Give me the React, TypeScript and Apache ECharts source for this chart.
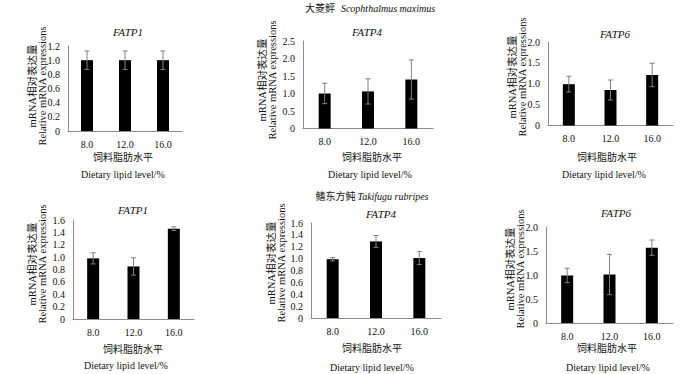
import React, { useEffect, useRef } from "react";
import * as echarts from "echarts";

const categories = ["8.0", "12.0", "16.0"];

// 大菱鲆 Scophthalmus maximus
const turbotFatp1Mean = [1.0, 1.0, 1.0];
const turbotFatp1Err = [0.13, 0.13, 0.13];
const turbotFatp4Mean = [1.0, 1.06, 1.4];
const turbotFatp4Err = [0.29, 0.36, 0.56];
const turbotFatp6Mean = [0.99, 0.85, 1.21];
const turbotFatp6Err = [0.19, 0.24, 0.28];

// 鳍东方鲀 Takifugu rubripes
const fuguFatp1Mean = [0.98, 0.85, 1.46];
const fuguFatp1Err = [0.09, 0.14, 0.03];
const fuguFatp4Mean = [0.99, 1.29, 1.01];
const fuguFatp4Err = [0.03, 0.1, 0.11];
const fuguFatp6Mean = [0.99, 1.01, 1.57];
const fuguFatp6Err = [0.15, 0.42, 0.16];

const geneNames = ["FATP1", "FATP4", "FATP6", "FATP1", "FATP4", "FATP6"];
const yMax = [1.2, 2.5, 2.0, 1.6, 1.6, 2.0];
const yInterval = [0.2, 0.5, 0.5, 0.2, 0.2, 0.5];

const speciesCn = ["大菱鲆", "鳍东方鲀"];
const speciesLatin = ["Scophthalmus maximus", "Takifugu rubripes"];
const yNameCn = "mRNA相对表达量";
const yNameEn = "Relative mRNA expressions";
const xNameCn = "饲料脂肪水平";
const xNameEn = "Dietary lipid level/%";

const means = [turbotFatp1Mean, turbotFatp4Mean, turbotFatp6Mean, fuguFatp1Mean, fuguFatp4Mean, fuguFatp6Mean];
const errs = [turbotFatp1Err, turbotFatp4Err, turbotFatp6Err, fuguFatp1Err, fuguFatp4Err, fuguFatp6Err];

// layout (pixels)
const layout = [
  { grid: { left: 68, top: 46, width: 114, height: 85 }, title: [128, 32], yName: [37, 86], xCn: [123, 157], xEn: [123, 174] },
  { grid: { left: 303, top: 41, width: 130, height: 87.5 }, title: [367, 32], yName: [267, 80], xCn: [372, 157], xEn: [370, 174] },
  { grid: { left: 548, top: 42, width: 125, height: 83.5 }, title: [615, 34], yName: [517, 77], xCn: [607, 157], xEn: [604, 174] },
  { grid: { left: 73, top: 220, width: 121, height: 99 }, title: [133, 210], yName: [37, 264], xCn: [133, 349], xEn: [126, 365] },
  { grid: { left: 311, top: 223, width: 130, height: 95 }, title: [381, 214], yName: [276, 263], xCn: [372, 348], xEn: [372, 367] },
  { grid: { left: 546, top: 227, width: 127, height: 96 }, title: [616, 213], yName: [515, 269], xCn: [607, 348], xEn: [608, 367] },
];
const speciesPos = [[370, 8], [372, 196]];

const FONT = '"Liberation Serif", "Noto Sans CJK SC", serif';
const TEXT = "#111111";
const AXIS = "#8c8c8c";

export default function App() {
  const ref = useRef<HTMLDivElement>(null);
  useEffect(() => {
    if (!ref.current) return;
    const chart = echarts.init(ref.current, undefined, { renderer: "svg" });

    const grids: any[] = [];
    const xAxes: any[] = [];
    const yAxes: any[] = [];
    const series: any[] = [];
    const graphics: any[] = [];

    layout.forEach((p, i) => {
      grids.push({ ...p.grid, containLabel: false });
      xAxes.push({
        type: "category",
        gridIndex: i,
        data: categories,
        axisLine: { show: true, lineStyle: { color: AXIS, width: 1 } },
        axisTick: { show: false },
        axisLabel: { color: TEXT, fontFamily: FONT, fontSize: 10, margin: 8 },
        splitLine: { show: false },
      });
      yAxes.push({
        type: "value",
        gridIndex: i,
        min: 0,
        max: yMax[i],
        interval: yInterval[i],
        axisLine: { show: true, lineStyle: { color: AXIS, width: 1 } },
        axisTick: { show: false },
        splitLine: { show: false },
        axisLabel: {
          color: TEXT,
          fontFamily: FONT,
          fontSize: 10,
          margin: 8,
          formatter: (v: number) => (v === 0 ? "0" : v.toFixed(1)),
        },
      });
      series.push({
        type: "bar",
        xAxisIndex: i,
        yAxisIndex: i,
        data: means[i],
        barWidth: 12,
        itemStyle: { color: "#000" },
        z: 2,
      });
      series.push({
        type: "custom",
        xAxisIndex: i,
        yAxisIndex: i,
        z: 3,
        data: means[i].map((m, k) => [k, m, errs[i][k]]),
        renderItem: (params: any, api: any) => {
          const x = api.value(0);
          const m = api.value(1);
          const e = api.value(2);
          const top = api.coord([x, m + e]);
          const bot = api.coord([x, m - e]);
          const cap = 2.5;
          const style = { stroke: "#808080", lineWidth: 1 };
          return {
            type: "group",
            children: [
              { type: "line", shape: { x1: top[0], y1: top[1], x2: bot[0], y2: bot[1] }, style },
              { type: "line", shape: { x1: top[0] - cap, y1: top[1], x2: top[0] + cap, y2: top[1] }, style },
              { type: "line", shape: { x1: bot[0] - cap, y1: bot[1], x2: bot[0] + cap, y2: bot[1] }, style },
            ],
          };
        },
      });
      graphics.push({
        type: "text",
        x: p.title[0],
        y: p.title[1],
        style: {
          text: geneNames[i],
          fontFamily: FONT,
          fontSize: 11,
          fontStyle: "italic",
          fontWeight: "normal",
          fill: TEXT,
          align: "center",
          verticalAlign: "middle",
        },
      });
      graphics.push({
        type: "text",
        x: p.yName[0],
        y: p.yName[1],
        rotation: Math.PI / 2,
        style: {
          text: `{cn|${yNameCn}}\n{en|${yNameEn}}`,
          align: "center",
          verticalAlign: "middle",
          rich: {
            cn: { fontFamily: FONT, fontSize: 10.5, lineHeight: 10, fill: TEXT, align: "center" },
            en: { fontFamily: FONT, fontSize: 10.5, lineHeight: 10, fill: TEXT, align: "center" },
          },
        },
      });
      graphics.push({
        type: "text",
        x: p.xCn[0],
        y: p.xCn[1],
        style: {
          text: xNameCn,
          fontFamily: FONT,
          fontSize: 10,
          fill: TEXT,
          align: "center",
          verticalAlign: "middle",
        },
      });
      graphics.push({
        type: "text",
        x: p.xEn[0],
        y: p.xEn[1],
        style: {
          text: xNameEn,
          fontFamily: FONT,
          fontSize: 10,
          fill: TEXT,
          align: "center",
          verticalAlign: "middle",
        },
      });
    });

    speciesCn.forEach((cn, j) => {
      graphics.push({
        type: "text",
        x: speciesPos[j][0],
        y: speciesPos[j][1],
        style: {
          text: `{cn|${cn}}{sp| }{la|${speciesLatin[j]}}`,
          align: "center",
          verticalAlign: "middle",
          rich: {
            cn: { fontFamily: FONT, fontSize: 10, fill: TEXT },
            sp: { fontFamily: FONT, fontSize: 10, fill: TEXT, width: j === 0 ? 6 : 2 },
            la: { fontFamily: FONT, fontSize: 10, fontStyle: "italic", fill: TEXT },
          },
        },
      });
    });

    chart.setOption({
      animation: false,
      backgroundColor: "#ffffff",
      grid: grids,
      xAxis: xAxes,
      yAxis: yAxes,
      series,
      graphic: graphics,
    });
    return () => chart.dispose();
  }, []);
  return (
    <div
      ref={ref}
      style={{ position: "fixed", left: 0, top: 0, width: 700, height: 374, background: "#fff" }}
    />
  );
}
